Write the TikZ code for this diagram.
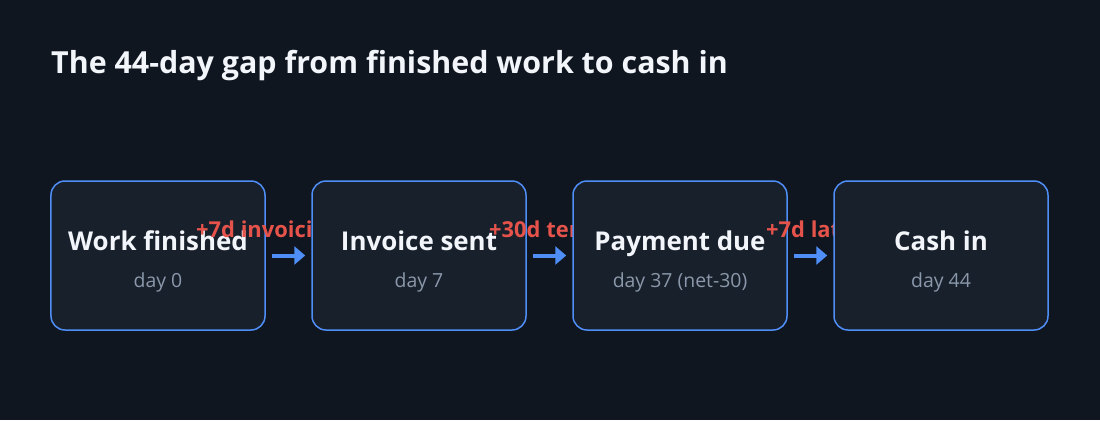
\documentclass[tikz,border=0pt]{standalone}
\usepackage{fontspec}
\setmainfont{Open Sans}
\usetikzlibrary{arrows.meta}
\definecolor{bgcol}{HTML}{0F1620}
\definecolor{boxfill}{HTML}{18202C}
\definecolor{boxline}{HTML}{4F8EF7}
\definecolor{titlecol}{HTML}{F2F5F9}
\definecolor{subcol}{HTML}{8A98AA}
\definecolor{redcol}{HTML}{E5534B}
\begin{document}
\begin{tikzpicture}[x=1bp,y=-1bp,
  stepbox/.style={draw=boxline, fill=boxfill, line width=1.5bp, rounded corners=14bp,
    minimum width=214bp, minimum height=149bp, inner sep=0pt},
  ttl/.style={text=titlecol, font=\bfseries\fontsize{26}{30}\selectfont, inner sep=0pt, anchor=base},
  sub/.style={text=subcol, font=\fontsize{19.5}{23}\selectfont, inner sep=0pt, anchor=base},
  lbl/.style={text=redcol, font=\bfseries\fontsize{22}{26}\selectfont, anchor=base west, inner sep=0pt},
  arr/.style={draw=boxline, line width=4bp, -{Triangle[length=11bp,width=18bp]},
    shorten <=6bp, shorten >=6bp}]
\fill[bgcol] (0,0) rectangle (1100,420);
\node[text=titlecol, font=\bfseries\fontsize{30.5}{34}\selectfont, anchor=base west, inner sep=0pt]
  (title) at (51,73) {The 44-day gap from finished work to cash in};

\node[stepbox] (b1) at (158,255.5) {};
\node[ttl] (t1) at (158,250) {Work finished};
\node[sub] (s1) at (158,287) {day 0};
\node[lbl] (l1) at (196,237) {+7d invoicing};

\node[stepbox] (b2) at (419,255.5) {};
\node[ttl] (t2) at (419,250) {Invoice sent};
\node[sub] (s2) at (419,287) {day 7};
\node[lbl] (l2) at (489,237) {+30d terms};

\node[stepbox] (b3) at (680,255.5) {};
\node[ttl] (t3) at (680,250) {Payment due};
\node[sub] (s3) at (680,287) {day 37 (net-30)};
\node[lbl] (l3) at (766,237) {+7d late};

\node[stepbox] (b4) at (941,255.5) {};
\node[ttl] (t4) at (941,250) {Cash in};
\node[sub] (s4) at (941,287) {day 44};

\draw[arr] (b1) -- (b2);
\draw[arr] (b2) -- (b3);
\draw[arr] (b3) -- (b4);
\end{tikzpicture}
\end{document}
